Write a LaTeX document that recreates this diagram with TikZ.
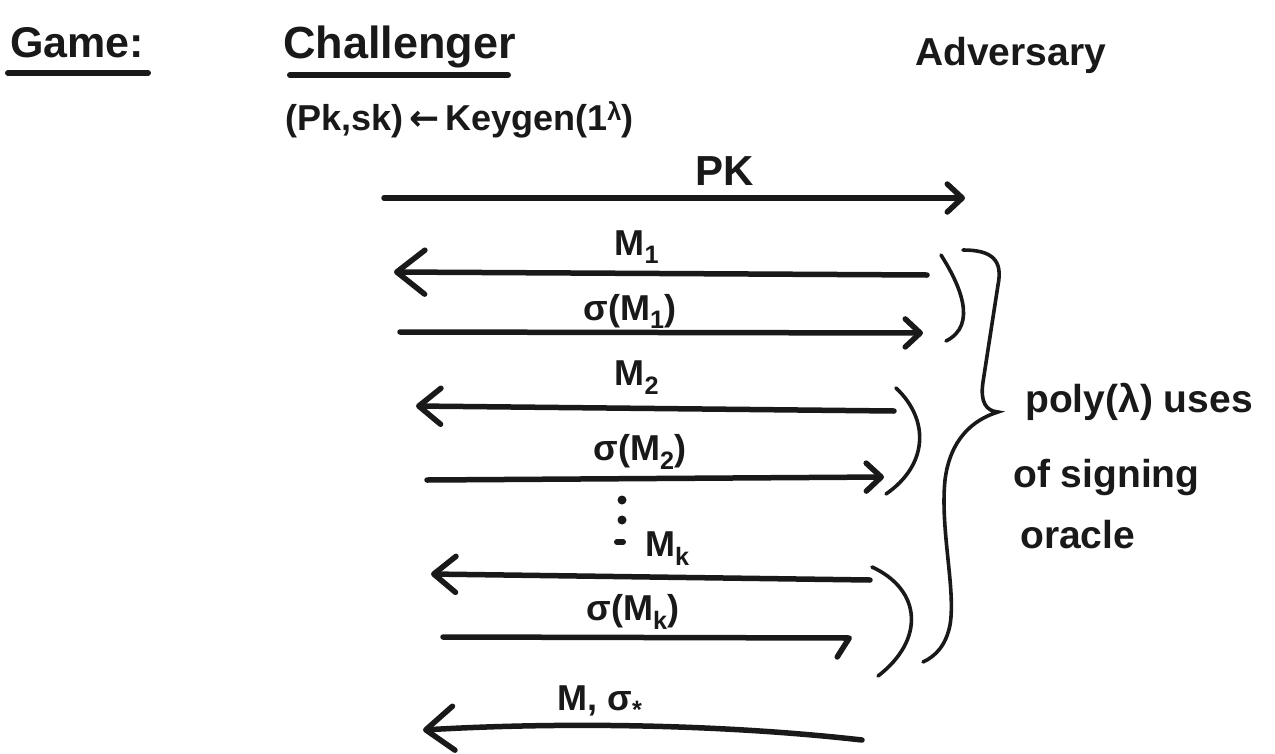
\documentclass[tikz,border=0pt]{standalone}
\usepackage{fontspec}
\setmainfont{Liberation Sans}
\newfontfamily\symfont{DejaVu Sans}
\usetikzlibrary{arrows.meta}
\newcommand\myfs[1]{\fontsize{#1}{#1}\selectfont\bfseries}
\begin{document}
\begin{tikzpicture}[x=1pt,y=-1pt,
  lbl/.style={inner sep=0pt, anchor=base, text=black!90},
  msg/.style={line width=5.5pt, draw=black!90, line cap=round},
  ulin/.style={line width=6pt, draw=black!90, line cap=round},
  brk/.style={line width=3.6pt, draw=black!90, line cap=round},
  tipbig/.style={-{Straight Barb[length=28pt,width=44pt,round]}},
  tipmid/.style={-{Straight Barb[length=22pt,width=36pt,round]}},
  tipsmall/.style={-{Straight Barb[length=15pt,width=28pt,round]}},
  tiphook/.style={-{Straight Barb[harpoon,swap,length=12pt,width=38pt,round]}},
  msgfont/.style={font={\myfs{36}}}]
\useasboundingbox (0,0) rectangle (1275,753);
\fill[white] (0,0) rectangle (1275,753);

% titles
\node[lbl, anchor=base west, font={\myfs{43}}] (game) at (10,57) {Game:};
\node[lbl, anchor=base west, font={\myfs{45}}] (chal) at (283,58) {Challenger};
\node[lbl, anchor=base west, font={\myfs{39}}] (adv) at (915,65) {Adversary};
\node[lbl, anchor=base west, font={\myfs{36}}] (keygen) at (285,130)
  {(Pk,sk)\,{\symfont ←}\,Keygen(1\textsuperscript{λ})};
\draw[ulin] (8,73) -- (148,73);
\draw[ulin] (290,75) -- (508,75);

% endpoints
\coordinate (c0) at (384,198); \coordinate (a0) at (965,198);
\coordinate (a1) at (927,275); \coordinate (c1) at (394,272);
\coordinate (c2) at (400,332); \coordinate (a2) at (923,333);
\coordinate (a3) at (894,411); \coordinate (c3) at (416,406);
\coordinate (c4) at (427,480); \coordinate (a4) at (884,477);
\coordinate (a5) at (870,580); \coordinate (c5) at (431,574);
\coordinate (c6) at (443,637); \coordinate (a6) at (852,638);
\coordinate (a7) at (862,740); \coordinate (c7) at (423,730);

% messages
\node[lbl, font={\myfs{42}}] (pk) at (725,185) {PK};
\draw[msg, tipsmall] (c0) -- (a0);

\node[lbl, msgfont] (m1) at (637,255) {M\textsubscript{1}};
\draw[msg, tipbig] (a1) -- (c1);

\node[lbl, msgfont] (s1) at (630,320) {σ(M\textsubscript{1})};
\draw[msg, tipsmall] (c2) -- (a2);

\node[lbl, msgfont] (m2) at (637,385) {M\textsubscript{2}};
\draw[msg, tipmid] (a3) -- (c3);

\node[lbl, msgfont] (s2) at (640,460) {σ(M\textsubscript{2})};
\draw[msg, tipsmall] (c4) -- (a4);

% vertical dots
\fill[black!90] (622,500) circle (4.5);
\fill[black!90] (622,520) circle (4.5);
\draw[line width=6pt, draw=black!90, line cap=round] (617,542) -- (623,542);

\node[lbl, msgfont, anchor=base west] (mk) at (645,556) {M\textsubscript{k}};
\draw[msg, tipmid] (a5) -- (c5);

\node[lbl, msgfont] (sk) at (633,620) {σ(M\textsubscript{k})};
\draw[msg, tiphook] (c6) -- (a6);

\node[lbl, msgfont] (fin) at (600,710) {M, σ\textsubscript{*}};
\draw[msg, tipbig] (a7) .. controls (720,724) and (560,722) .. (c7);

% small parens
\draw[brk] (941,255) .. controls (960,285) and (978,325) .. (946,341);
\draw[brk] (896,388) .. controls (930,420) and (928,465) .. (886,494);
\draw[brk] (872,567) .. controls (922,590) and (925,640) .. (878,676);

% big brace
\draw[brk] (963,250) .. controls (992,250) and (1003,260) .. (998,285)
  -- (983,382) .. controls (980,402) and (986,411) .. (998,412)
  .. controls (972,420) and (950,440) .. (945,480)
  .. controls (940,530) and (956,590) .. (950,625)
  .. controls (946,645) and (936,656) .. (923,662);

% side note
\node[lbl, anchor=base west, font={\myfs{39}}] (poly1) at (1025,412) {poly(λ) uses};
\node[lbl, anchor=base west, font={\myfs{39}}] (poly2) at (1013,487) {of signing};
\node[lbl, anchor=base west, font={\myfs{39}}] (poly3) at (1020,548) {oracle};
\end{tikzpicture}
\end{document}
